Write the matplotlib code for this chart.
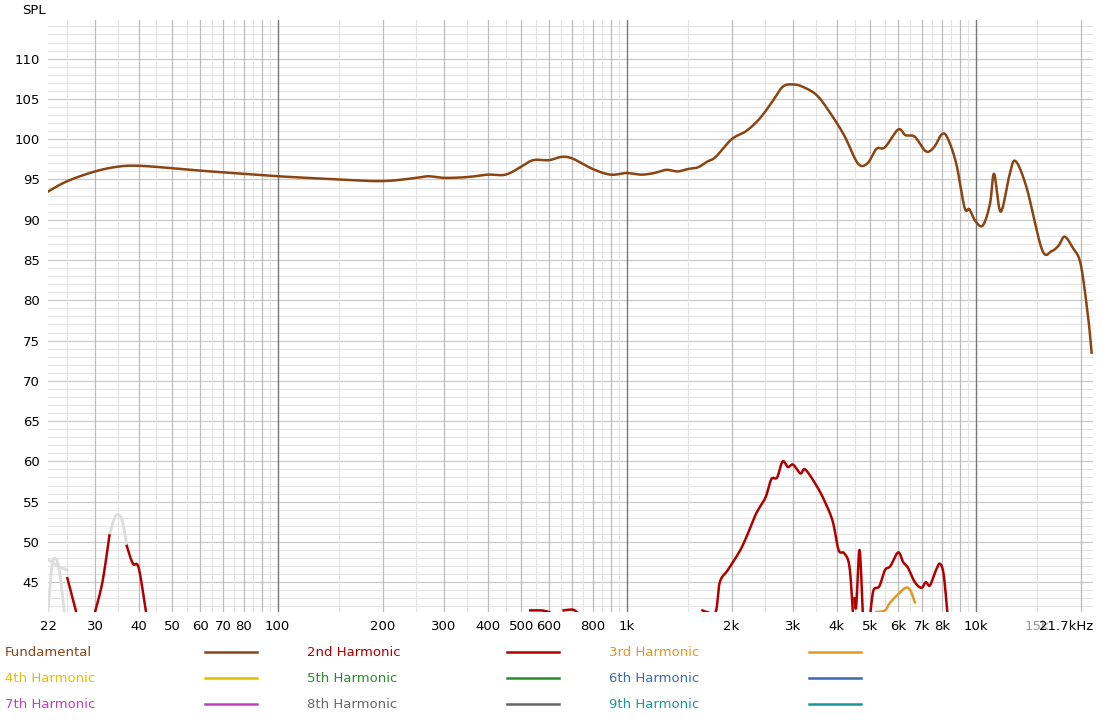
import numpy as np
import matplotlib
matplotlib.use("Agg")
import matplotlib.pyplot as plt
from matplotlib.lines import Line2D

fund_f = [22,25,30,35,40,50,60,80,100,150,200,250,270,300,350,400,450,500,540,600,650,700,800,900,1000,1100,1200,1300,1400,1500,1600,1700,1800,2000,2200,2400,2600,2800,3000,3200,3500,3800,4200,4600,4900,5200,5500,6000,6300,6700,7200,7600,8000,8300,8800,9300,9600,10000,10500,11000,11300,11800,12500,13000,14000,15500,16500,17300,18000,19000,20000,21000,21500]
fund_db = [93.5,94.8,96.0,96.6,96.7,96.4,96.1,95.7,95.4,95.0,94.8,95.2,95.4,95.2,95.3,95.6,95.6,96.6,97.4,97.4,97.8,97.6,96.3,95.6,95.8,95.6,95.8,96.2,96.0,96.3,96.5,97.2,97.8,100.0,101.0,102.5,104.5,106.5,106.8,106.5,105.5,103.5,100.5,97.0,97.0,98.8,99.0,101.2,100.5,100.3,98.5,99.0,100.6,100.2,97.0,91.5,91.3,89.8,89.3,92.0,95.7,91.0,95.5,97.3,94.0,86.3,86.1,86.8,87.9,86.5,84.5,78.0,73.5]

h2_f = [25,26.5,np.nan,30,31.5,33,np.nan,37,38.5,40,42,np.nan,530,570,600,np.nan,660,700,720,np.nan,1650,1700,1800,1850,1950,2100,2200,2350,2500,2600,2700,2800,2900,3000,3150,3250,3500,3700,3900,4050,4200,4350,4450,np.nan,4500,4550,4650,4750,np.nan,5000,5100,5300,5500,5700,6000,6200,6400,6700,7000,7200,7400,7700,7900,8100,8300]
h2_db = [45.5,41.3,np.nan,41.3,45.0,50.8,np.nan,49.5,47.3,46.8,41.3,np.nan,41.5,41.5,41.3,np.nan,41.5,41.6,41.3,np.nan,41.5,41.3,41.3,45.0,46.5,48.7,50.5,53.5,55.5,57.8,58.0,60.0,59.3,59.6,58.5,59.0,57.0,55.0,52.5,49.0,48.6,47.0,41.3,np.nan,43.0,42.0,49.0,41.3,np.nan,41.3,44.0,44.5,46.5,47.0,48.7,47.5,46.8,45.0,44.3,45.0,44.6,46.5,47.3,46.0,41.3]
h3_f = [5200,5500,5700,6000,6300,6500,6700]
h3_db = [41.3,41.5,42.5,43.5,44.3,44.0,42.5]
gray_f = [22,22.5,23,23.7,24.5,np.nan,22,23.5,25,np.nan,33,34,35,36,37]
gray_db = [41.5,46.5,48.0,46.5,41.3,np.nan,47.8,47.0,46.5,np.nan,50.8,52.8,53.4,52.5,49.5]

def catmull(x, y, n=20):
    xs, ys = [], []
    P = np.column_stack([x, y])
    P = np.vstack([P[0], P, P[-1]])
    t = np.linspace(0, 1, n, endpoint=False)
    for i in range(1, len(P)-2):
        p0, p1, p2, p3 = P[i-1], P[i], P[i+1], P[i+2]
        pts = 0.5*((2*p1)[None] + (-p0+p2)[None]*t[:, None] + (2*p0-5*p1+4*p2-p3)[None]*(t**2)[:, None] + (-p0+3*p1-3*p2+p3)[None]*(t**3)[:, None])
        xs += list(pts[:, 0]); ys += list(pts[:, 1])
    xs.append(P[-2][0]); ys.append(P[-2][1])
    return xs, ys

def smooth(f, d):
    f = np.array(f, float); d = np.array(d, float)
    out_f, out_d = [], []
    segs = np.split(np.arange(len(f)), np.where(np.isnan(f))[0])
    for s in segs:
        s = [i for i in s if not np.isnan(f[i])]
        if len(s) < 2: continue
        xs, ys = catmull(np.log10(f[s]), d[s])
        out_f += list(10**np.array(xs)) + [np.nan]; out_d += list(ys) + [np.nan]
    return out_f, out_d

fig = plt.figure(figsize=(11.17, 7.22), dpi=100)
ax = fig.add_axes([48/1117, 1-612/722, (1093-48)/1117, (612-20)/722])
ax.set_xscale('log')
ax.set_xlim(22, 21700); ax.set_ylim(41.3, 114.8)

for db in np.arange(42, 115, 1):
    ax.axhline(db, color='#e4e4e4' if db % 5 else '#c8c8c8', lw=0.8, zorder=0)
for dec in [10, 100, 1000, 10000]:
    for m in np.arange(1, 10, 0.5):
        v = dec*m
        if 22 <= v <= 21700:
            if m == 1 and dec in (100, 1000, 10000):
                c, w = '#777777', 1.0
            elif m == int(m):
                c, w = '#bbbbbb', 0.9
            else:
                c, w = '#e4e4e4', 0.8
            ax.axvline(v, color=c, lw=w, zorder=0)
for s in ax.spines.values(): s.set_visible(False)

ax.plot(*smooth(gray_f, gray_db), color='#dddddd', lw=2)
ax.plot(*smooth(fund_f, fund_db), color='#8b4513', lw=1.8)
ax.plot(*smooth(h2_f, h2_db), color='#b00000', lw=1.8)
ax.plot(*smooth(h3_f, h3_db), color='#e09a20', lw=1.8)

xt = [22,30,40,50,60,70,80,100,200,300,400,500,600,800,1000,2000,3000,4000,5000,6000,7000,8000,10000,15000,21700]
xl = ['22','30','40','50','60','70','80','100','200','300','400','500','600','800','1k','2k','3k','4k','5k','6k','7k','8k','10k','15k','21.7kHz']
ax.set_xticks(xt); ax.set_xticklabels(xl, fontsize=9.5)
ax.minorticks_off()
for t in ax.get_xticklabels():
    if t.get_text() == '15k': t.set_color('#999999')
    if t.get_text() == '21.7kHz': t.set_ha('right')
ax.set_yticks(range(45, 111, 5)); ax.set_yticklabels([str(v) for v in range(45, 111, 5)], fontsize=9.5)
ax.tick_params(length=0, pad=6)
fig.text(22/1117, 1-10/722, 'SPL', fontsize=9.5, va='center')

legend = [('Fundamental', '#8b4513'), ('2nd Harmonic', '#b00000'), ('3rd Harmonic', '#e09a20'),
          ('4th Harmonic', '#e0c000'), ('5th Harmonic', '#2a8a2a'), ('6th Harmonic', '#3a6ab0'),
          ('7th Harmonic', '#c040c0'), ('8th Harmonic', '#666666'), ('9th Harmonic', '#189898')]
for i, (lab, c) in enumerate(legend):
    r, col = divmod(i, 3)
    x0 = 5 + col*302; y = 652 + r*26
    fig.text(x0/1117, 1-y/722, lab, color=c, fontsize=9.5, va='center')
    fig.add_artist(Line2D([(x0+200)/1117, (x0+252)/1117], [1-y/722]*2, color=c, lw=1.8))

fig.savefig('out.png', dpi=100)
